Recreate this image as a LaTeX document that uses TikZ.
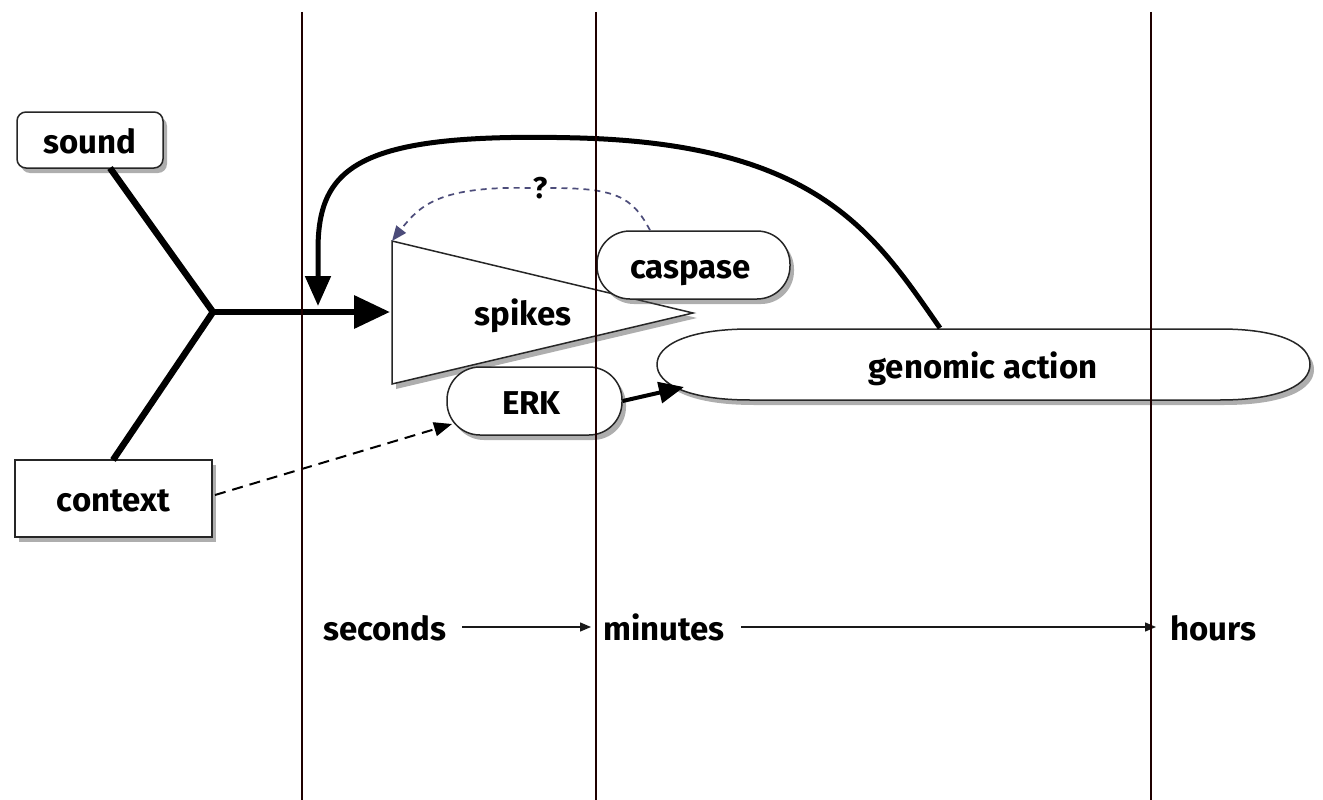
\documentclass[tikz,border=0pt]{standalone}
\usepackage{fontspec}
\setmainfont{Fira Sans}
\usetikzlibrary{arrows.meta,shadows}
\begin{document}
\begin{tikzpicture}[x=1pt,y=-1pt,
  lbl/.style={font=\fontsize{33}{36}\selectfont\bfseries, text=black, text height=26pt, text depth=0pt},
  shad/.style={drop shadow={shadow xshift=4pt,shadow yshift=-5pt,opacity=0.45,fill=black!70}},
  box/.style={draw=black!85, line width=1.5pt, fill=white, lbl, shad, inner sep=0pt},
  thickline/.style={line width=6.5pt, black},
  bigtip/.style={-{Triangle[length=36pt,width=32pt]}},
  dashgray/.style={draw=black!55!blue!40!gray, line width=1.7pt, dash pattern=on 6pt off 5pt},
  timeline/.style={line width=1.3pt, black!90, -{Triangle[length=11pt,width=9pt]}},
  vline/.style={line width=1.4pt, black!80!red!60!black}
]
\useasboundingbox (0,0) rectangle (1323,800);
\fill[white] (0,0) rectangle (1323,800);

% spikes triangle
\coordinate (triTL) at (392,241);
\coordinate (triBL) at (392,384);
\coordinate (triTip) at (693,313);
\coordinate (triIn) at (390,312);
\filldraw[draw=black!85, line width=1.5pt, fill=white, shad] (triTL) -- (triTip) -- (triBL) -- cycle;
\node[lbl] (spikes) at (523,312) {spikes};

% nodes
\node[box, rounded corners=9pt, minimum width=146pt, minimum height=56pt] (sound) at (90,140) {sound};
\node[box, minimum width=197pt, minimum height=77pt] (context) at (113.5,498.5) {context};
\node[box, rounded corners=33pt, minimum width=193pt, minimum height=68pt] (caspase) at (693.5,265) {\hspace*{-6pt}caspase};
\node[box, rounded corners=33pt, minimum width=175pt, minimum height=68pt] (erk) at (534.5,401) {\hspace*{-6pt}ERK};

% genomic action (elongated oval)
\filldraw[draw=black!85, line width=1.5pt, fill=white, shad]
  (750,329) -- (1220,329) .. controls (1282,329) and (1310,345) .. (1310,364.5)
  .. controls (1310,384) and (1282,400) .. (1220,400) -- (750,400)
  .. controls (688,400) and (657,384) .. (657,364.5)
  .. controls (657,345) and (688,329) .. (750,329) -- cycle;
\node[minimum width=653pt, minimum height=71pt, inner sep=0pt] (ga) at (983.5,364.5) {};
\node[lbl] (galabel) at (983,365) {genomic action};

% junction from sound and context
\coordinate (j) at (213,312);
\coordinate (soundOut) at (110,168);
\coordinate (ctxOut) at (113,460);
\draw[thickline, line join=miter] (soundOut) -- (j) -- (ctxOut);
\draw[thickline, bigtip] (j) -- (triIn);

% feedback from genomic action
\coordinate (fbStart) at (940,328);
\coordinate (fbEnd) at (318,306);
\draw[line width=5pt, -{Triangle[length=30pt,width=25pt]}]
  (fbStart) .. controls (875,235) and (820,145) .. (580,138)
  .. controls (360,132) and (318,165) .. (318,250) -- (fbEnd);

% caspase -> ? -> spikes
\node[font=\fontsize{30}{34}\selectfont\bfseries, inner sep=2pt] (q) at (540,188) {?};
\draw[dashgray] (caspase.north -| 650,0) .. controls (632,196) and (615,188) .. (q.east);
\draw[dashgray, -{Triangle[length=15pt,width=12pt]}] (q.west) .. controls (440,186) and (420,205) .. (triTL);

% context -> ERK dashed
\coordinate (ctxE) at (215,495);
\coordinate (erkIn) at (452,424);
\draw[line width=2pt, dash pattern=on 11pt off 7pt, -{Triangle[length=18pt,width=14pt]}] (ctxE) -- (erkIn);

% ERK -> genomic action
\coordinate (gaIn) at (684,387);
\draw[line width=4pt, -{Triangle[length=25pt,width=21pt]}] (erk.east) -- (gaIn);

% timeline
\node[lbl] (sec) at (385,627) {seconds};
\node[lbl] (min) at (664,627) {minutes};
\node[lbl] (hrs) at (1213,627) {hours};
\coordinate (a1) at (462,627);
\coordinate (a2) at (591,627);
\coordinate (b1) at (741,627);
\coordinate (b2) at (1156,627);
\draw[timeline] (a1) -- (a2);
\draw[timeline] (b1) -- (b2);

% time boundaries
\draw[vline] (302,12) -- (302,800);
\draw[vline] (596,12) -- (596,800);
\draw[vline] (1151,12) -- (1151,800);
\end{tikzpicture}
\end{document}
